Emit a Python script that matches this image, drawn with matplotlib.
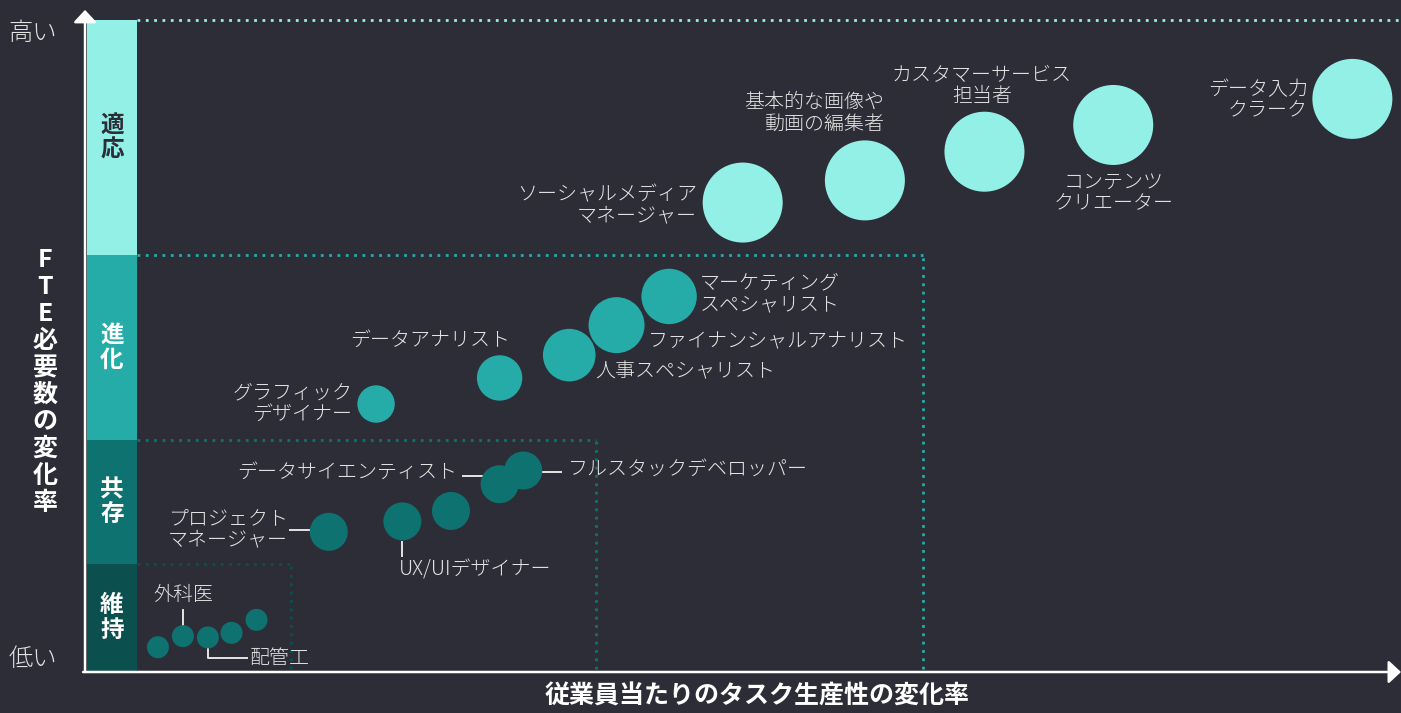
import matplotlib.pyplot as plt

plt.rcParams['font.family'] = ['Noto Sans CJK JP', 'DejaVu Sans']

bg = '#2d2d37'
text_c = '#e4e4e4'

# zones, bottom to top
zones = ['維持', '共存', '進化', '適応']
zone_top = [16.6, 35.6, 64.0, 100.0]
zone_right = [15.5, 38.7, 63.6, 100.0]
zone_colors = ['#0b504e', '#0e7370', '#26aca8', '#93f0e6']
zone_text = ['white', 'white', 'white', bg]
bubble_colors = ['#0e7370', '#0e7370', '#26aca8', '#93f0e6']

# bubbles: productivity change (x), FTE change (y), size (radius px), zone index
prod_change = [5.4, 7.3, 9.2, 11.0, 12.9,
               18.4, 24.0, 27.7, 31.4, 33.2,
               22.0, 31.4, 36.7, 40.3, 44.3,
               49.9, 59.2, 68.3, 78.1, 96.3]
fte_change = [3.8, 5.5, 5.3, 6.0, 8.0,
              21.5, 23.1, 24.7, 28.8, 30.9,
              41.1, 45.1, 48.6, 53.2, 57.6,
              72.0, 75.4, 79.8, 83.9, 87.9]
bubble_r = [11, 11, 11, 11, 11,
            19, 19, 19, 19, 19,
            18.7, 22.7, 26.3, 28, 27.7,
            40, 40, 40, 40, 40]
zone_idx = [0] * 5 + [1] * 5 + [2] * 5 + [3] * 5

# labels: text, x, y, alignment
labels = [
    ('データ入力\nクラーク', 92.9, 87.7, 'right'),
    ('コンテンツ\nクリエーター', 78.1, 73.5, 'center'),
    ('カスタマーサービス\n担当者', 68.1, 89.9, 'center'),
    ('基本的な画像や\n動画の編集者', 60.65, 85.7, 'right'),
    ('ソーシャルメディア\nマネージャー', 46.4, 71.6, 'right'),
    ('マーケティング\nスペシャリスト', 46.65, 58.0, 'left'),
    ('ファイナンシャルアナリスト', 42.7, 50.6, 'left'),
    ('人事スペシャリスト', 38.7, 46.0, 'left'),
    ('データアナリスト', 26.1, 50.8, 'center'),
    ('グラフィック\nデザイナー', 20.2, 41.1, 'right'),
    ('データサイエンティスト', 28.2, 30.7, 'right'),
    ('フルスタックデベロッパー', 36.6, 31.1, 'left'),
    ('プロジェクト\nマネージャー', 15.3, 21.9, 'right'),
    ('UX/UIデザイナー', 23.7, 15.6, 'left'),
    ('外科医', 7.3, 11.8, 'center'),
    ('配管工', 12.4, 2.15, 'left'),
]

# leader lines
leaders = [
    ([28.6, 30.06], [30.06, 30.06]),
    ([34.55, 36.07], [30.72, 30.72]),
    ([15.45, 16.97], [21.78, 21.78]),
    ([24.01, 24.01], [19.98, 17.79]),
    ([7.31, 7.31], [9.51, 7.21]),
    ([9.23, 9.23, 12.15], [4.14, 2.1, 2.1]),
]

W, H, dpi = 1401, 713, 100
fig = plt.figure(figsize=(W / dpi, H / dpi), dpi=dpi, facecolor=bg)
ax = fig.add_axes([87 / W, (H - 672) / H, (W - 87) / W, (672 - 20) / H])
ax.set_facecolor(bg)
ax.set_xlim(0, 100)
ax.set_ylim(0, 100)
ax.axis('off')

band_w = 3.81
bottoms = [0] + zone_top[:-1]
for i in range(4):
    ax.bar(0, zone_top[i] - bottoms[i], bottom=bottoms[i], width=band_w,
           align='edge', color=zone_colors[i], zorder=1)
    # dotted zone borders
    ax.plot([band_w, zone_right[i]], [zone_top[i], zone_top[i]],
            color=zone_colors[i], lw=2, ls=(0, (1, 2)), zorder=1, clip_on=False)
    if zone_right[i] < 100:
        ax.plot([zone_right[i], zone_right[i]], [0.5, zone_top[i]],
                color=zone_colors[i], lw=2, ls=(0, (1, 2)), zorder=1)
    # zone label, stacked vertically
    yc = (bottoms[i] + zone_top[i]) / 2
    step = 3.83
    name = zones[i]
    for k, ch in enumerate(name):
        ax.text(1.9, yc + (len(name) - 1) / 2 * step - k * step, ch,
                ha='center', va='center', fontsize=17, fontweight='bold',
                color=zone_text[i], zorder=2)

sizes = [(2 * r * 72 / dpi) ** 2 for r in bubble_r]
ax.scatter(prod_change, fte_change, s=sizes,
           c=[bubble_colors[z] for z in zone_idx], edgecolors='none', zorder=3)

for txt, x, y, ha in labels:
    ax.text(x, y, txt, ha=ha, va='center', fontsize=14.4, color=text_c,
            linespacing=1.02, fontweight='light', zorder=4)

for xs, ys in leaders:
    ax.plot(xs, ys, color=text_c, lw=1.4, zorder=2)

# axes with arrows
arrow = dict(arrowstyle='-|>,head_length=0.75,head_width=0.7', color='white',
             lw=1.8, shrinkA=0, shrinkB=0, mutation_scale=10)
ax.annotate('', xy=(-0.15, 101.55), xytext=(-0.15, 0), arrowprops=arrow,
            annotation_clip=False)
ax.annotate('', xy=(100, 0), xytext=(-0.3, 0), arrowprops=arrow,
            annotation_clip=False)

# titles
ytitle = 'FTE必要数の変化率'
for k, ch in enumerate(ytitle):
    fig.text(45 / W, 1 - (260 + 27 * k) / H, ch, ha='center', va='center',
             fontsize=18, fontweight='bold', color='white')
fig.text(757 / W, 1 - 697 / H, '従業員当たりのタスク生産性の変化率', ha='center',
         va='center', fontsize=18, fontweight='bold', color='white')
fig.text(33 / W, 1 - 33 / H, '高い', ha='center', va='center', fontsize=17.5,
         color=text_c, fontweight='light')
fig.text(33 / W, 1 - 660 / H, '低い', ha='center', va='center', fontsize=17.5,
         color=text_c, fontweight='light')

fig.savefig('out.png', dpi=dpi, facecolor=bg)
